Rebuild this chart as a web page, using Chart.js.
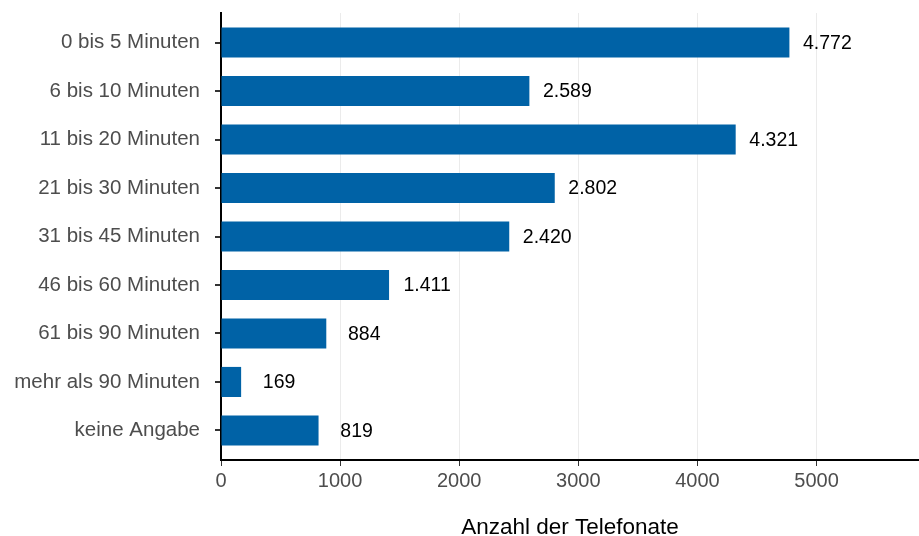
<!DOCTYPE html>
<html>
<head>
<meta charset="utf-8">
<script src="https://cdn.jsdelivr.net/npm/chart.js@4"></script>
<style>
  html, body { margin: 0; padding: 0; background: #fff; }
  #wrap { width: 919px; height: 536px; }
</style>
</head>
<body>
<div id="wrap"><canvas id="chart"></canvas></div>
<script>
// categories (top to bottom) and number of calls
const categories = ['0 bis 5 Minuten', '6 bis 10 Minuten', '11 bis 20 Minuten', '21 bis 30 Minuten',
  '31 bis 45 Minuten', '46 bis 60 Minuten', '61 bis 90 Minuten', 'mehr als 90 Minuten', 'keine Angabe'];
const calls = [4772, 2589, 4321, 2802, 2420, 1411, 884, 169, 819];
const xTicks = [0, 1000, 2000, 3000, 4000, 5000];

const barColor = '#0062A6';
const font = "'Liberation Sans', Arial, sans-serif";

// German thousands separator
function fmt(v) {
  return String(v).replace(/\B(?=(\d{3})+(?!\d))/g, '.');
}

// value labels to the right of each bar
const valueLabels = {
  id: 'valueLabels',
  afterDatasetsDraw(chart) {
    const ctx = chart.ctx;
    const meta = chart.getDatasetMeta(0);
    ctx.save();
    ctx.font = '19.5px ' + font;
    ctx.fillStyle = '#000';
    ctx.textAlign = 'center';
    ctx.textBaseline = 'middle';
    meta.data.forEach((bar, i) => {
      ctx.fillText(fmt(calls[i]), bar.x + 38, bar.y + 1);
    });
    ctx.restore();
  }
};

const ctx = document.getElementById('chart');

new Chart(ctx, {
  type: 'bar',
  data: {
    datasets: [{
      data: calls.map((v, i) => ({ x: v, y: i })),
      backgroundColor: barColor,
      barPercentage: 0.62,
      categoryPercentage: 1
    }]
  },
  options: {
    indexAxis: 'y',
    responsive: true,
    maintainAspectRatio: false,
    animation: false,
    layout: { padding: { top: 13, right: 0, left: 0, bottom: 0 } },
    plugins: {
      legend: { display: false },
      tooltip: { enabled: false }
    },
    scales: {
      x: {
        type: 'linear',
        min: 0,
        max: 5860,
        afterBuildTicks: axis => { axis.ticks = xTicks.map(v => ({ value: v })); },
        afterFit: axis => { axis.height = 76; axis.paddingLeft = 0; axis.paddingRight = 0; },
        border: { display: true, color: '#000', width: 2 },
        grid: { color: '#ebebeb', lineWidth: 1, tickColor: '#333', tickLength: 6 },
        ticks: {
          color: '#4d4d4d',
          font: { family: font, size: 20 },
          padding: 3,
          callback: v => String(v)
        },
        title: {
          display: true,
          text: 'Anzahl der Telefonate',
          color: '#000',
          font: { family: font, size: 22.5 },
          padding: { top: 0, bottom: -5 }
        }
      },
      y: {
        type: 'linear',
        reverse: true,
        offset: false,
        min: -0.61,
        max: 8.61,
        afterBuildTicks: axis => { axis.ticks = categories.map((c, i) => ({ value: i })); },
        afterFit: axis => { axis.width = 221; axis.paddingTop = 0; axis.paddingBottom = 0; },
        border: { display: true, color: '#000', width: 2 },
        grid: { offset: false, drawOnChartArea: false, tickColor: '#333', tickLength: 6, lineWidth: 2 },
        ticks: {
          color: '#4d4d4d',
          font: { family: font, size: 20.5 },
          padding: 15,
          callback: v => categories[v]
        }
      }
    }
  },
  plugins: [valueLabels]
});
</script>
</body>
</html>
